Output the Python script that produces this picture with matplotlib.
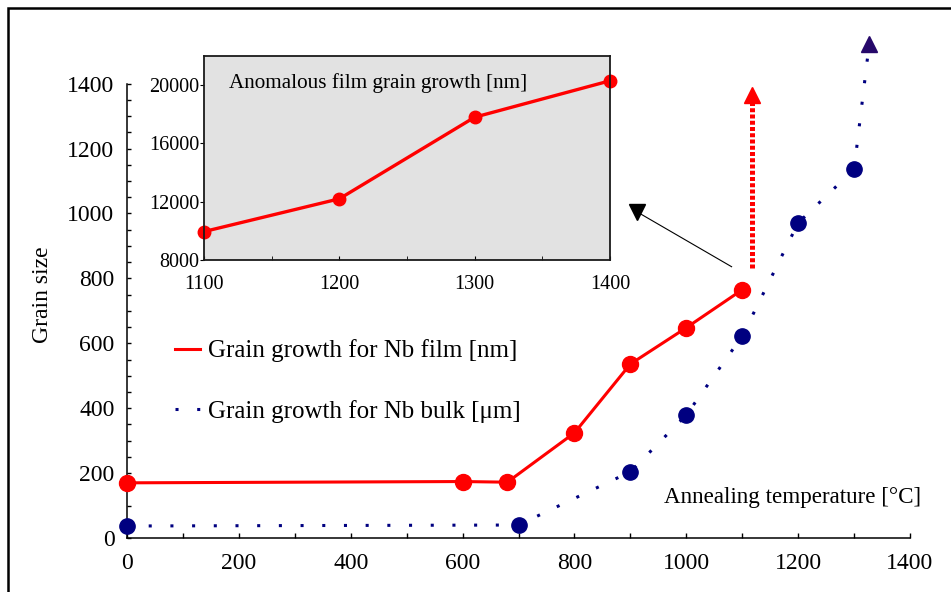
import matplotlib.pyplot as plt
from matplotlib.lines import Line2D
from matplotlib.patches import Rectangle
from matplotlib.ticker import MultipleLocator

plt.rcParams['font.family'] = ['Liberation Serif', 'DejaVu Serif']

# Nb film grain size [nm] vs annealing temperature [°C]
film_temp = [0, 600, 680, 800, 900, 1000, 1100]
film_size = [170, 174, 172, 324, 536, 648, 765]

# Nb bulk grain size [um]
bulk_temp = [0, 700, 900, 1000, 1100, 1200, 1300]
bulk_size = [37, 40, 204, 379, 622, 971, 1136]

# trend arrows past the last measured points
bulk_arrow_temp = [1300, 1327]
bulk_arrow_size = [1136, 1522]
film_arrow_temp = [1117, 1117]
film_arrow_size = [832, 1365]
zoom_arrow_temp = [1081, 912]
zoom_arrow_size = [836, 1005]

# anomalous film grain growth [nm]
anom_temp = [1100, 1200, 1300, 1400]
anom_size = [9950, 12200, 17800, 20300]

red = '#ff0000'
navy = '#000080'
dotted = (0, (1, 6.1))

fig = plt.figure(figsize=(9.51, 5.92), dpi=100)
W, H = 951, 592

# outer frame
fig.patches.append(Rectangle((8 / W, -0.05), 1.2, 1 - 8 / H + 0.05, transform=fig.transFigure,
                             fill=False, edgecolor='black', lw=1.8, clip_on=False))

ax = fig.add_axes([127 / W, 1 - 538 / H, 783 / W, 454.3 / H])

ax.plot(bulk_temp, bulk_size, color=navy, lw=2.2, linestyle=dotted,
        marker='o', markersize=11, markerfacecolor=navy, markeredgecolor=navy, clip_on=False, zorder=3)
ax.plot(bulk_arrow_temp, bulk_arrow_size, color=navy, lw=2.2, linestyle=dotted, clip_on=False)
ax.plot(bulk_arrow_temp[-1], bulk_arrow_size[-1], marker='^', markersize=12,
        color='#26086a', clip_on=False)

ax.plot(film_temp, film_size, color=red, lw=2.2, marker='o', markersize=11.5, clip_on=False, zorder=4)
ax.plot(film_arrow_temp[:1] * 2, [film_arrow_size[0], film_arrow_size[1] - 25], color=red, lw=3.6,
        linestyle=(0, (0.8, 0.45)), clip_on=False)
ax.plot(film_arrow_temp[-1], film_arrow_size[-1], marker='^', markersize=12, color=red, clip_on=False)

ax.plot(zoom_arrow_temp, zoom_arrow_size, color='black', lw=0.8, clip_on=False)
ax.plot(zoom_arrow_temp[-1], zoom_arrow_size[-1], marker='v', markersize=12, color='black', clip_on=False)

ax.set_xlim(0, 1400)
ax.set_ylim(0, 1400)
ax.spines['top'].set_visible(False)
ax.spines['right'].set_visible(False)
for s in ['left', 'bottom']:
    ax.spines[s].set_linewidth(1.1)

ax.xaxis.set_major_locator(MultipleLocator(200))
ax.xaxis.set_minor_locator(MultipleLocator(100))
ax.yaxis.set_major_locator(MultipleLocator(200))
ax.yaxis.set_minor_locator(MultipleLocator(50))
ax.tick_params(axis='x', which='both', direction='in', length=3.6, width=1, labelsize=17, pad=10.5)
ax.tick_params(axis='y', which='both', direction='in', length=3, width=1, labelsize=17, pad=9)

ax.set_ylabel('Grain size', fontsize=17)
ax.yaxis.set_label_coords(-0.094, 0.535)
ax.text(1.014, 0.09, 'Annealing temperature [°C]', transform=ax.transAxes,
        ha='right', va='center', fontsize=16.6)

handles = [Line2D([], [], color=red, lw=2.2),
           Line2D([], [], color=navy, lw=2.2, linestyle=dotted)]
labels = ['Grain growth for Nb film [nm]', 'Grain growth for Nb bulk [μm]']
ax.legend(handles, labels, loc='upper left', bbox_to_anchor=(0.0613, 0.437), frameon=False,
          fontsize=18, handlelength=1.0, handletextpad=0.32, labelspacing=1.5,
          borderpad=0, borderaxespad=0)

# inset: anomalous growth above 1100 °C
ins = fig.add_axes([204 / W, 1 - 260 / H, 406 / W, 204 / H])
ins.set_facecolor('#e2e2e2')
ins.plot(anom_temp, anom_size, color=red, lw=2.4, marker='o', markersize=9, clip_on=False)
ins.set_xlim(1100, 1400)
ins.set_ylim(8000, 22000)
ins.set_yticks([8000, 12000, 16000, 20000])
ins.xaxis.set_major_locator(MultipleLocator(100))
ins.xaxis.set_minor_locator(MultipleLocator(50))
ins.tick_params(axis='x', which='both', direction='in', length=3, labelsize=14.5, pad=10.5)
ins.tick_params(axis='y', direction='out', length=3, labelsize=14.5, pad=0.5)
for s in ins.spines.values():
    s.set_linewidth(1.3)
    s.set_color('#1a1a1a')
ins.text(0.0616, 0.865, 'Anomalous film grain growth [nm]', transform=ins.transAxes,
         ha='left', va='center', fontsize=15.2)

fig.savefig('out.png', dpi=100)
